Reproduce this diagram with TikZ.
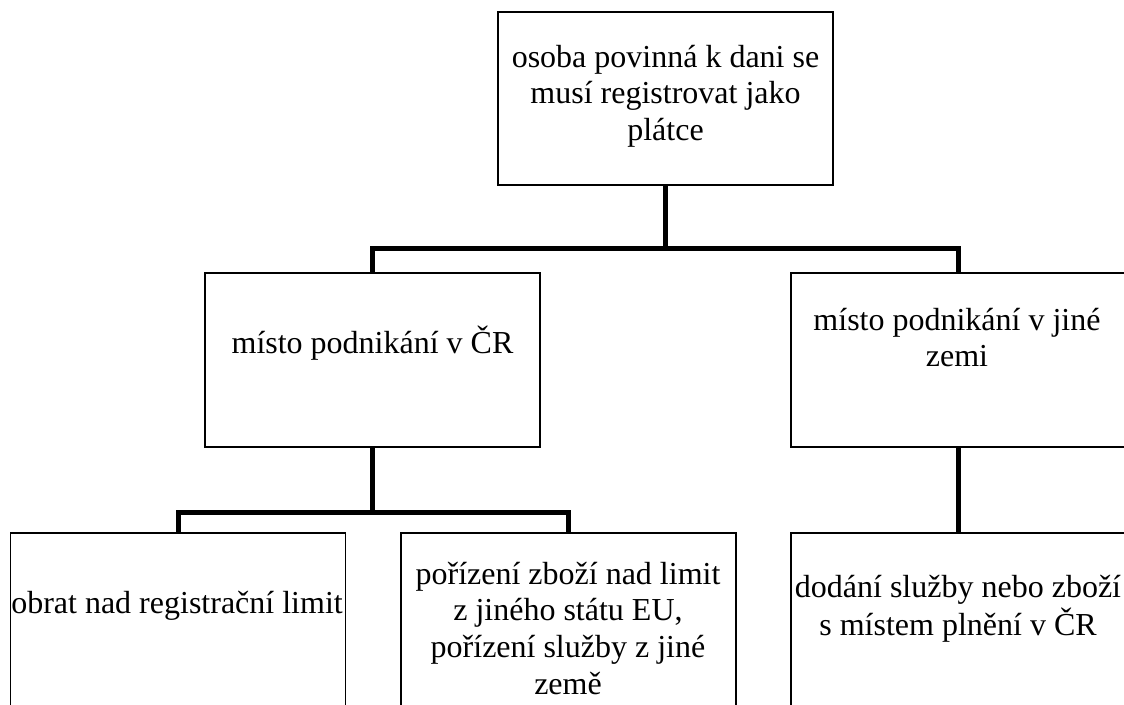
\documentclass[tikz,border=0pt]{standalone}
\usepackage{fontspec}
\setmainfont{Liberation Serif}
\begin{document}
\begin{tikzpicture}[x=1pt,y=-1pt,
  boxst/.style={draw=black, line width=1.3pt, minimum width=335pt, minimum height=#1, inner sep=0pt, outer sep=0pt},
  conn/.style={draw=black, line width=5pt, line join=miter},
  txt/.style={inner sep=0pt, anchor=base, font=\fontsize{32}{36.8}\selectfont}]
\useasboundingbox (0,0) rectangle (1124,704);
\clip (0,0) rectangle (1124,704);
% boxes
\node[boxst=173pt] (top) at (665.5,98.5) {};
\node[boxst=174pt] (midL) at (372.5,360) {};
\node[boxst=174pt] (midR) at (958.5,360) {};
\node[boxst=190pt] (botL) at (178,628) {};
\node[boxst=190pt] (botM) at (568.5,628) {};
\node[boxst=190pt] (botR) at (958.5,628) {};
% texts
\node[txt] (topT) at (665.5,67) {\begin{tabular}[t]{@{}c@{}}osoba povinná k dani se\\musí registrovat jako\\plátce\end{tabular}};
\node[txt] (midLT) at (372.5,353) {místo podnikání v ČR};
\node[txt] (midRT) at (957,330) {\begin{tabular}[t]{@{}c@{}}místo podnikání v jiné\hspace{14pt}\\zemi\end{tabular}};
\node[txt] (botLT) at (177,613) {obrat nad registrační limit};
\node[txt] (botMT) at (568,584) {\begin{tabular}[t]{@{}c@{}}pořízení zboží nad limit\\z jiného státu EU,\\pořízení služby z jiné\\země\end{tabular}};
\node[txt] (botRT) at (958,597) {\begin{tabular}[t]{@{}c@{}}dodání služby nebo zboží\\s místem plnění v ČR\end{tabular}};
% connectors
\coordinate (bus1) at (665.5,248);
\coordinate (bus2) at (372.5,512);
\draw[conn] (top.south) -- (bus1);
\draw[conn] (midL.north) |- (bus1) -| (midR.north);
\draw[conn] (midL.south) -- (bus2);
\draw[conn] (botL.north) |- (bus2) -| (botM.north);
\draw[conn] (midR.south) -- (botR.north);
\end{tikzpicture}
\end{document}
